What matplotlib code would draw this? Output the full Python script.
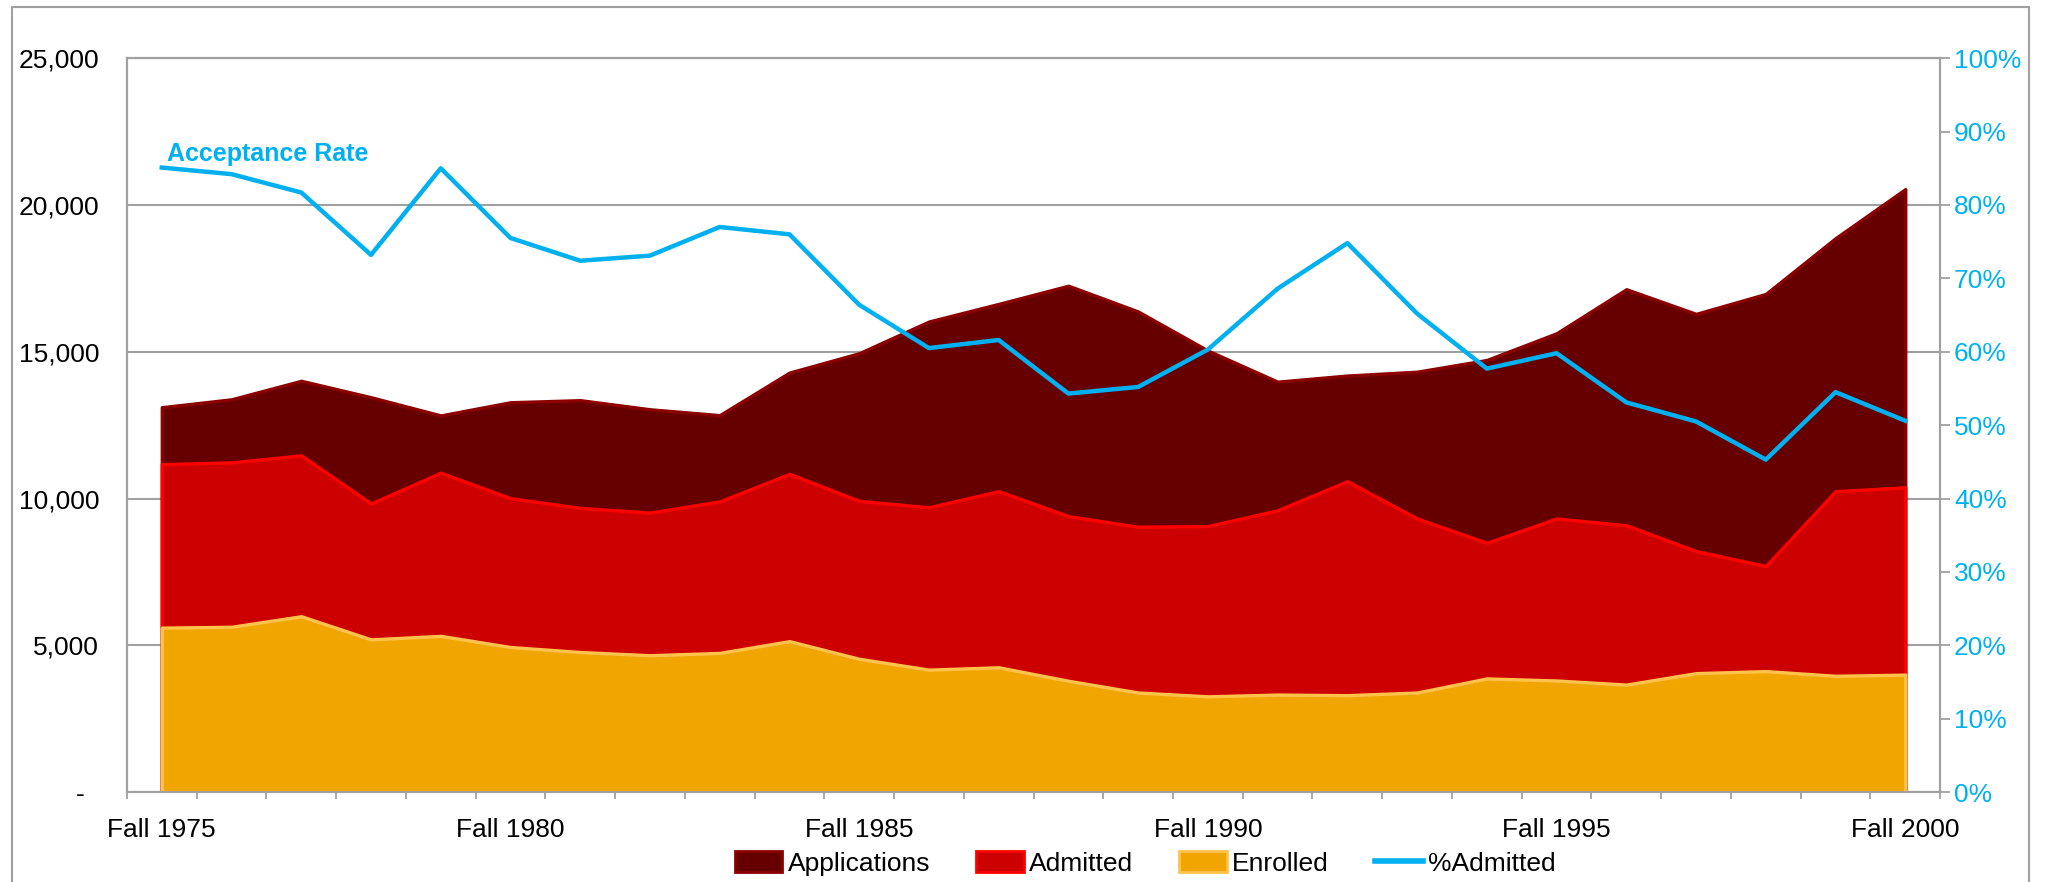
import matplotlib.pyplot as plt
import matplotlib.ticker as mticker
from matplotlib.patches import Patch
from matplotlib.lines import Line2D

plt.rcParams['font.family'] = ['Liberation Sans', 'DejaVu Sans']

# Data
years = list(range(1975, 2001))
applications = [13110, 13380, 14010, 13450, 12830, 13280, 13350, 13040, 12840, 14290,
                14950, 16030, 16630, 17250, 16370, 15040, 13980, 14190, 14320, 14720,
                15630, 17130, 16290, 16970, 18870, 20540]
admitted = [11170, 11230, 11470, 9830, 10880, 10010, 9680, 9520, 9900, 10840,
            9920, 9700, 10250, 9400, 9040, 9060, 9600, 10590, 9320, 8490,
            9320, 9090, 8210, 7700, 10250, 10380]
enrolled = [5600, 5630, 5990, 5200, 5320, 4940, 4770, 4660, 4740, 5140,
            4540, 4170, 4250, 3790, 3390, 3260, 3320, 3300, 3390, 3870,
            3800, 3660, 4050, 4120, 3960, 4000]
pct_admitted = [85.1, 84.2, 81.7, 73.2, 85.0, 75.5, 72.4, 73.1, 77.0, 76.0,
                66.4, 60.5, 61.6, 54.3, 55.2, 60.3, 68.6, 74.8, 65.2, 57.7,
                59.8, 53.1, 50.5, 45.3, 54.5, 50.6]
label_years = [1975, 1980, 1985, 1990, 1995, 2000]

blue = '#00B0F0'
grey = '#A0A0A0'

fig = plt.figure(figsize=(20.47, 8.82), dpi=100)
ax = fig.add_axes([0.062, 0.102, 0.8858, 0.832])
ax2 = ax.twinx()

x = list(range(len(years)))

# overlapping areas, biggest first
ax.fill_between(x, 0, applications, facecolor='#660000', edgecolor='#8B0000', linewidth=2.4, zorder=2)
ax.fill_between(x, 0, admitted, facecolor='#CC0000', edgecolor='#FF0000', linewidth=2.4, zorder=3)
ax.fill_between(x, 0, enrolled, facecolor='#F0A500', edgecolor='#FFC34D', linewidth=2.4, zorder=4)

ax.set_xlim(-0.5, len(years) - 0.5)
ax.set_ylim(0, 25000)
ax.set_yticks(range(0, 25001, 5000))
ax.yaxis.set_major_formatter(mticker.FuncFormatter(lambda v, p: '-  ' if v == 0 else f'{v:,.0f}'))
ax.grid(axis='y', color=grey, linewidth=1.5)
ax.set_axisbelow(True)
ax.tick_params(axis='y', length=0, pad=20, labelsize=19)

# year labels every 5 years, tick marks between categories
ax.set_xticks([years.index(y) for y in label_years])
ax.set_xticklabels([f'Fall {y}' for y in label_years])
ax.set_xticks([i - 0.5 for i in range(len(years) + 1)], minor=True)
ax.tick_params(axis='x', which='major', length=0, pad=19, labelsize=19)
ax.tick_params(axis='x', which='minor', length=5, width=1.3, color=grey)

# acceptance rate line on right axis
ax2.plot(x, pct_admitted, color=blue, linewidth=3.2, zorder=5)
ax2.set_ylim(0, 100)
ax2.set_yticks(range(0, 101, 10))
ax2.yaxis.set_major_formatter(mticker.FuncFormatter(lambda v, p: f'{v:.0f}%'))
ax2.tick_params(axis='y', length=7, width=1.3, color=grey, labelcolor=blue, labelsize=19, pad=3)
ax2.text(0.08, 86.0, 'Acceptance Rate', color=blue, fontsize=18, fontweight='bold', va='baseline')

for a in (ax, ax2):
    for s in a.spines.values():
        s.set_color(grey)
        s.set_linewidth(1.5)

handles = [Patch(facecolor='#660000', edgecolor='#8B0000', linewidth=2),
           Patch(facecolor='#CC0000', edgecolor='#FF0000', linewidth=2),
           Patch(facecolor='#F0A500', edgecolor='#FFC34D', linewidth=2),
           Line2D([0], [0], color=blue, linewidth=4)]
fig.legend(handles, ['Applications', 'Admitted', 'Enrolled', '%Admitted'],
           loc='center', bbox_to_anchor=(0.5594, 0.0215), ncol=4, frameon=False,
           fontsize=19, handlelength=1.8, handleheight=0.9, handletextpad=0.2,
           columnspacing=1.75)

# chart border
fig.add_artist(Line2D([0.0059, 0.0059, 0.9912, 0.9912], [0.0, 0.992, 0.992, 0.0],
                      transform=fig.transFigure, color=grey, linewidth=1.5))

fig.savefig('out.png', dpi=100)
